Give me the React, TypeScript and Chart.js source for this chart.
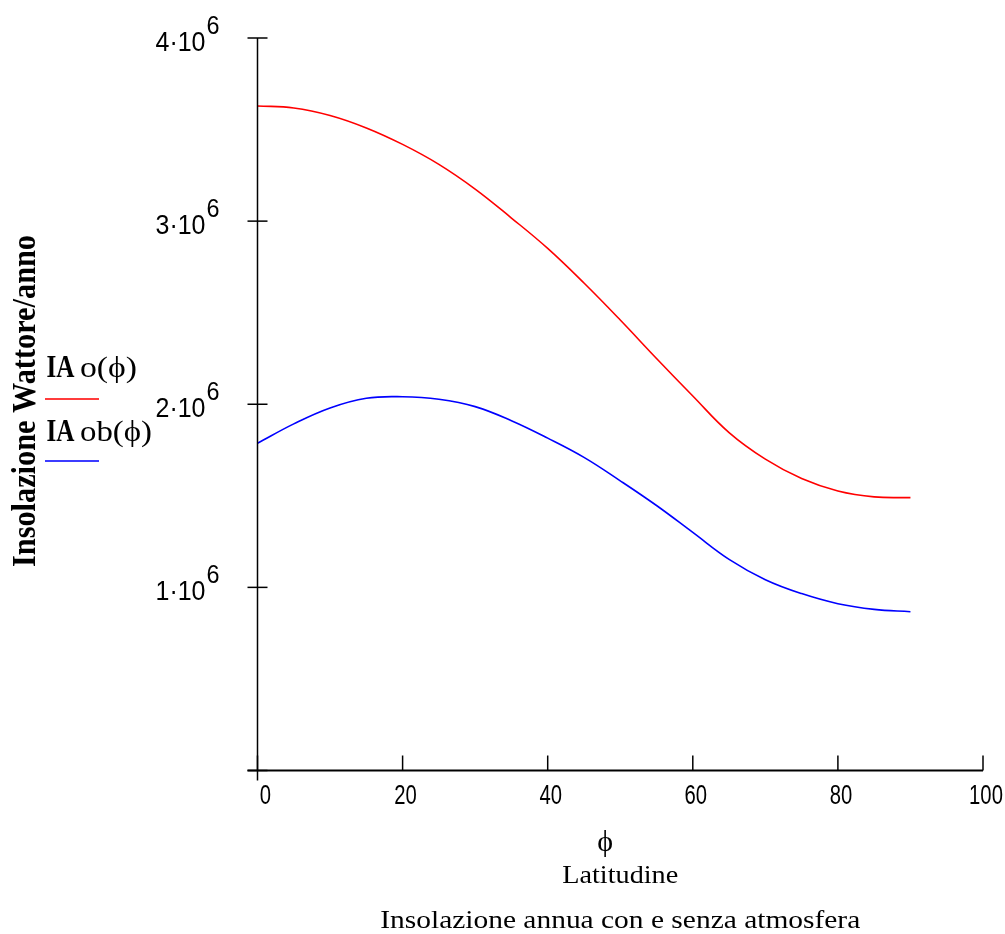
import React, { useEffect, useRef } from "react";
import { Chart, registerables } from "chart.js";

Chart.register(...registerables);

// ---- data ----
const latitude = [0, 5, 10, 15, 20, 25, 30, 35, 40, 45, 50, 55, 60, 65, 70, 75, 80, 85, 90];
const iaoValues = [
  3.629e6, 3.618e6, 3.577e6, 3.509e6, 3.419e6, 3.31e6, 3.175e6, 3.017e6, 2.851e6, 2.662e6,
  2.46e6, 2.25e6, 2.045e6, 1.845e6, 1.7e6, 1.594e6, 1.526e6, 1.494e6, 1.49e6,
];
const iaobValues = [
  1.787e6, 1.893e6, 1.98e6, 2.033e6, 2.041e6, 2.027e6, 1.987e6, 1.91e6, 1.815e6, 1.71e6,
  1.582e6, 1.447e6, 1.3e6, 1.153e6, 1.042e6, 0.966e6, 0.911e6, 0.88e6, 0.867e6,
];
const xTickValues = [0, 20, 40, 60, 80, 100];
const xTickLabels = ["0", "20", "40", "60", "80", "100"];
const yTickValues = [1e6, 2e6, 3e6, 4e6];
const yTickMantissas = ["1", "2", "3", "4"];
const yTickExponent = "6";
const seriesHeads = ["IA", "IA"];
const seriesTails = ["o(ϕ)", "ob(ϕ)"];
const seriesColors = ["#ff0000", "#0000ff"];
const legendColors = ["#ff3c3c", "#3c3cff"];
const xAxisSymbol = "ϕ";
const xAxisTitle = "Latitudine";
const yAxisTitle = "Insolazione Wattore/anno";
const chartTitle = "Insolazione annua con e senza atmosfera";

const SANS = "'Liberation Sans', 'DejaVu Sans', sans-serif";
const SERIF = "'Liberation Serif', 'DejaVu Serif', serif";

function fitText(
  ctx: CanvasRenderingContext2D,
  text: string,
  x: number,
  y: number,
  width: number,
  font: string,
  align: CanvasTextAlign
) {
  ctx.save();
  ctx.font = font;
  const w = ctx.measureText(text).width || 1;
  ctx.translate(x, y);
  ctx.scale(width / w, 1);
  ctx.textAlign = align;
  ctx.textBaseline = "alphabetic";
  ctx.fillStyle = "#000";
  ctx.fillText(text, 0, 0);
  ctx.restore();
}

function scaledText(
  ctx: CanvasRenderingContext2D,
  text: string,
  x: number,
  y: number,
  sx: number,
  font: string,
  align: CanvasTextAlign
) {
  ctx.save();
  ctx.font = font;
  ctx.translate(x, y);
  ctx.scale(sx, 1);
  ctx.textAlign = align;
  ctx.textBaseline = "alphabetic";
  ctx.fillStyle = "#000";
  ctx.fillText(text, 0, 0);
  ctx.restore();
}

const mathcadPlugin = {
  id: "mathcadAxes",
  afterDraw(chart: any) {
    const ctx: CanvasRenderingContext2D = chart.ctx;
    const xs = chart.scales.x;
    const ys = chart.scales.y;
    const x0 = xs.getPixelForValue(0);
    const xMax = xs.getPixelForValue(xs.max);
    const y0 = ys.getPixelForValue(0);
    const yTop = ys.getPixelForValue(ys.max);

    ctx.save();
    ctx.strokeStyle = "#000";
    // y axis
    ctx.lineWidth = 1.5;
    ctx.beginPath();
    ctx.moveTo(x0, yTop);
    ctx.lineTo(x0, y0 + 10);
    ctx.stroke();
    // y ticks (crossing)
    [0, ...yTickValues].forEach((v) => {
      const py = ys.getPixelForValue(v);
      ctx.beginPath();
      ctx.moveTo(x0 - 10, py);
      ctx.lineTo(x0 + 10, py);
      ctx.stroke();
    });
    // x axis
    ctx.lineWidth = 2;
    ctx.beginPath();
    ctx.moveTo(x0 - 10, y0);
    ctx.lineTo(xMax, y0);
    ctx.stroke();
    // x ticks (upwards)
    ctx.lineWidth = 1.5;
    xTickValues.forEach((v) => {
      const px = xs.getPixelForValue(v);
      ctx.beginPath();
      ctx.moveTo(px, y0 - 15);
      ctx.lineTo(px, y0);
      ctx.stroke();
    });
    ctx.restore();

    // y tick labels  m·10^6
    yTickValues.forEach((v, i) => {
      const py = ys.getPixelForValue(v);
      fitText(ctx, yTickMantissas[i] + "·10", x0 - 52, py + 13, 50, `27px ${SANS}`, "right");
      fitText(ctx, yTickExponent, x0 - 51, py - 4, 13, `26px ${SANS}`, "left");
    });

    // x tick labels
    xTickValues.forEach((v, i) => {
      const px = xs.getPixelForValue(v) + (i === 0 ? 8 : 3);
      scaledText(ctx, xTickLabels[i], px, y0 + 33, 0.75, `27px ${SANS}`, "center");
    });

    const xc = (x0 + xMax) / 2;
    // x axis symbol and titles
    scaledText(ctx, xAxisSymbol, xc - 15, y0 + 80, 1, `30px ${SERIF}`, "center");
    fitText(ctx, xAxisTitle, xc, y0 + 112, 116, `26px ${SERIF}`, "center");
    fitText(ctx, chartTitle, xc, y0 + 157, 480, `26px ${SERIF}`, "center");

    // y axis title (rotated)
    ctx.save();
    ctx.translate(35, 401);
    ctx.rotate(-Math.PI / 2);
    fitText(ctx, yAxisTitle, 0, 0, 332, `bold 34px ${SERIF}`, "center");
    ctx.restore();

    // legend
    const baselines = [377, 441];
    const lineYs = [399, 461];
    const tailWidths = [57, 72];
    for (let i = 0; i < 2; i++) {
      fitText(ctx, seriesHeads[i], 46.5, baselines[i], 28, `bold 32px ${SERIF}`, "left");
      fitText(ctx, seriesTails[i], 80, baselines[i], tailWidths[i], `30px ${SERIF}`, "left");
      ctx.save();
      ctx.strokeStyle = legendColors[i];
      ctx.lineWidth = 2;
      ctx.beginPath();
      ctx.moveTo(45, lineYs[i]);
      ctx.lineTo(99, lineYs[i]);
      ctx.stroke();
      ctx.restore();
    }
  },
};

export default function App() {
  const canvasRef = useRef<HTMLCanvasElement | null>(null);

  useEffect(() => {
    if (!canvasRef.current) return;
    const chart = new Chart(canvasRef.current, {
      type: "line",
      data: {
        datasets: [iaoValues, iaobValues].map((vals, i) => ({
          label: seriesHeads[i] + seriesTails[i],
          data: latitude.map((lat, j) => ({ x: lat, y: vals[j] })),
          borderColor: seriesColors[i],
          backgroundColor: seriesColors[i],
          borderWidth: 1.6,
          pointRadius: 0,
          fill: false,
          tension: 0.4,
        })),
      },
      options: {
        responsive: false,
        animation: false,
        events: [],
        layout: { padding: { left: 257.5, right: 22, top: 38, bottom: 163.5 } },
        plugins: { legend: { display: false }, tooltip: { enabled: false }, title: { display: false } },
        scales: {
          x: { type: "linear", min: 0, max: 100, display: false, ticks: { stepSize: 20 } },
          y: { type: "linear", min: 0, max: 4e6, display: false, ticks: { stepSize: 1e6 } },
        },
      },
      plugins: [mathcadPlugin],
    });
    return () => chart.destroy();
  }, []);

  return (
    <div style={{ position: "absolute", left: 0, top: 0, width: 1005, height: 934, background: "#fff" }}>
      <canvas ref={canvasRef} width={1005} height={934} style={{ display: "block" }} />
    </div>
  );
}
